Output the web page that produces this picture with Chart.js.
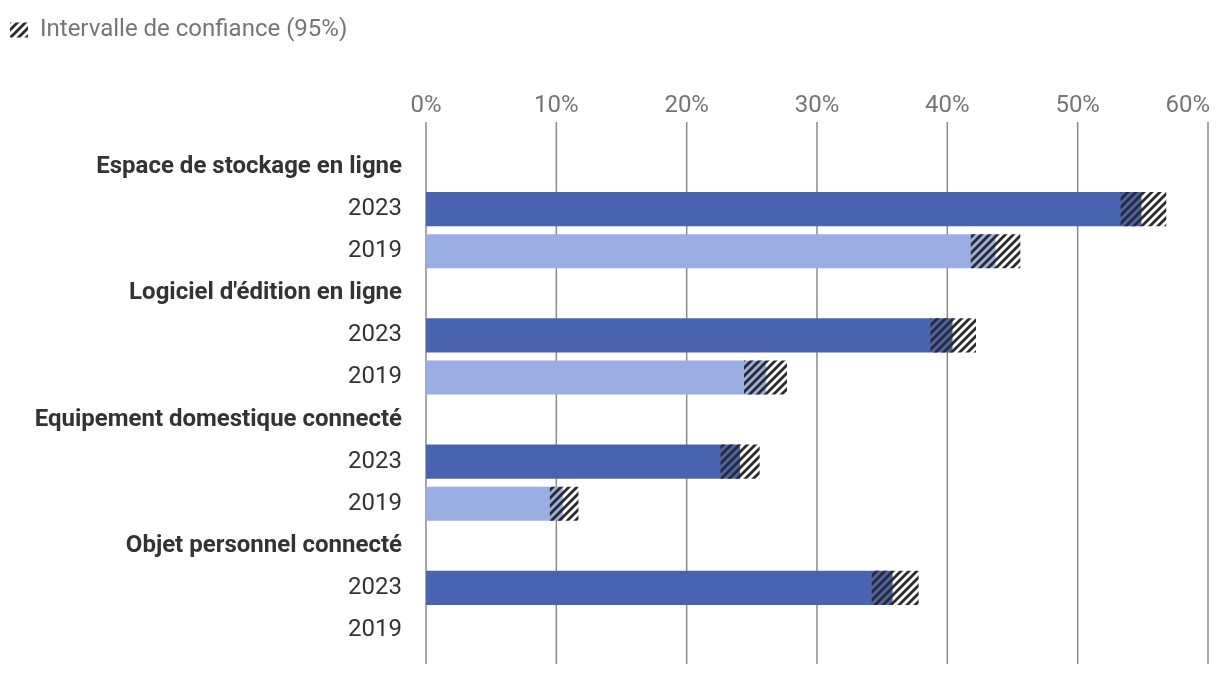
<!DOCTYPE html>
<html>
<head>
<meta charset="utf-8">
<script src="https://cdn.jsdelivr.net/npm/chart.js@4"></script>
<style>
  body { margin: 0; background: #fff; }
  #wrap { width: 1220px; height: 676px; }
</style>
</head>
<body>
<div id="wrap"><canvas id="chart" width="1220" height="676"></canvas></div>
<script>
'use strict';
//___________DATA__________________
var groups = ['Espace de stockage en ligne', "Logiciel d'édition en ligne", 'Equipement domestique connecté', 'Objet personnel connecté'];
var years = ['2023', '2019'];
var values2023 = [54.9, 40.4, 24.1, 35.8];
var values2019 = [43.7, 26.1, 10.5, null];
var ciLow2023 = [53.3, 38.7, 22.6, 34.2];
var ciHigh2023 = [56.8, 42.2, 25.6, 37.8];
var ciLow2019 = [41.8, 24.4, 9.5, null];
var ciHigh2019 = [45.6, 27.7, 11.7, null];
var xTicks = [0, 10, 20, 30, 40, 50, 60];

var color2023 = '#4a63b0';
var color2019 = '#9baee4';

//___________BUILD ROWS (header + one row per year)__________________
var labels = [];
var barValues = [];
var barColors = [];
var ciRanges = [];
var isHeader = [];
for (var i = 0; i < groups.length; i++) {
  labels.push(groups[i]); barValues.push(null); barColors.push('transparent'); ciRanges.push(null); isHeader.push(true);
  labels.push(years[0]); barValues.push(values2023[i]); barColors.push(color2023);
  ciRanges.push(ciLow2023[i] == null ? null : [ciLow2023[i], ciHigh2023[i]]); isHeader.push(false);
  labels.push(years[1]); barValues.push(values2019[i]); barColors.push(color2019);
  ciRanges.push(ciLow2019[i] == null ? null : [ciLow2019[i], ciHigh2019[i]]); isHeader.push(false);
}

//___________HATCH PATTERN__________________
function makeHatch() {
  var s = 8;
  var c = document.createElement('canvas');
  c.width = s; c.height = s;
  var g = c.getContext('2d');
  g.strokeStyle = '#2b2b2b';
  g.lineWidth = 2.8;
  g.beginPath();
  g.moveTo(-1, s + 1); g.lineTo(s + 1, -1);
  g.moveTo(-s / 2 - 1, s / 2 + 1); g.lineTo(s / 2 + 1, -s / 2 - 1);
  g.moveTo(s / 2 - 1, s * 1.5 + 1); g.lineTo(s * 1.5 + 1, s / 2 - 1);
  g.stroke();
  return g.createPattern(c, 'repeat');
}
var hatch = makeHatch();

//___________GRID + X LABELS (drawn from the x scale)__________________
var gridPlugin = {
  id: 'gridTop',
  beforeDatasetsDraw: function(chart) {
    var ctx = chart.ctx, x = chart.scales.x, area = chart.chartArea;
    ctx.save();
    ctx.strokeStyle = '#8a8a8a';
    ctx.lineWidth = 1.5;
    ctx.font = '24px Roboto';
    ctx.fillStyle = '#757575';
    ctx.textBaseline = 'middle';
    ctx.textAlign = 'center';
    for (var k = 0; k < xTicks.length; k++) {
      var px = x.getPixelForValue(xTicks[k]);
      ctx.beginPath();
      ctx.moveTo(px, area.top - 24);
      ctx.lineTo(px, area.bottom + 13);
      ctx.stroke();
      var txt = xTicks[k] + '%';
      var w = ctx.measureText(txt).width;
      var cx = Math.min(px, chart.width - 10 - w / 2);
      ctx.fillText(txt, cx, area.top - 40);
    }
    ctx.restore();
  }
};

var ctx = document.getElementById('chart').getContext('2d');
new Chart(ctx, {
  type: 'bar',
  data: {
    labels: labels,
    datasets: [
      {
        label: 'Intervalle de confiance (95%)',
        data: ciRanges,
        backgroundColor: hatch,
        borderWidth: 0,
        grouped: false,
        barPercentage: 0.81,
        categoryPercentage: 1,
        order: 0
      },
      {
        label: 'Valeur',
        data: barValues,
        backgroundColor: barColors,
        borderWidth: 0,
        grouped: false,
        barPercentage: 0.81,
        categoryPercentage: 1,
        order: 1
      }
    ]
  },
  options: {
    indexAxis: 'y',
    responsive: false,
    animation: false,
    layout: {padding: {left: 0, right: 12, top: 8, bottom: 25}},
    plugins: {
      tooltip: {enabled: false},
      legend: {
        position: 'top',
        align: 'start',
        labels: {
          filter: function(item) { return item.datasetIndex === 0; },
          boxWidth: 18,
          boxHeight: 15,
          color: '#757575',
          font: {family: 'Roboto', size: 24},
          padding: 10
        }
      }
    },
    scales: {
      x: {
        position: 'top',
        min: 0,
        max: 60,
        ticks: {display: false, stepSize: 10},
        grid: {display: false},
        border: {display: false},
        afterFit: function(s) { s.height = 94; }
      },
      y: {
        ticks: {
          color: '#333333',
          padding: 16,
          font: function(c) {
            return {family: 'Roboto', size: 24, weight: isHeader[c.index] ? 'bold' : 'normal'};
          }
        },
        grid: {display: false},
        border: {display: false},
        afterFit: function(s) { s.width = 426; s.paddingTop = 0; s.paddingBottom = 0; }
      }
    }
  },
  plugins: [gridPlugin]
});
</script>
</body>
</html>
